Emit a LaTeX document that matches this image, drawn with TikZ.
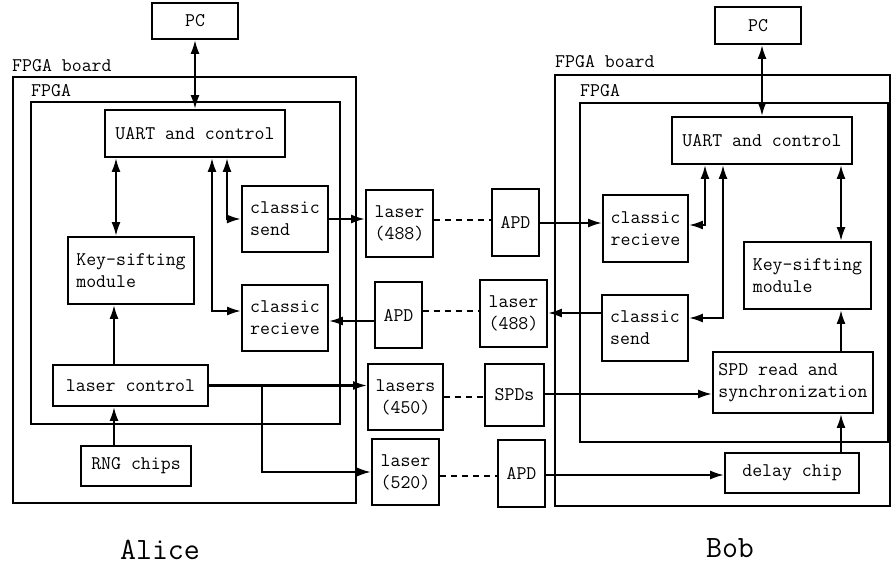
\documentclass[tikz,border=0pt]{standalone}
\usepackage{fontspec}
\usetikzlibrary{arrows.meta}
\begin{document}
\begin{tikzpicture}[x=1pt,y=-1pt,
  txt/.style={font=\ttfamily\fontsize{19.3}{22}\selectfont},
  box/.style={draw, line width=1.8pt, inner sep=0pt, txt, align=center},
  lbox/.style={box, align=left},
  frame/.style={draw, line width=1.6pt},
  lbl/.style={txt, anchor=base west, inner sep=0pt},
  big/.style={font=\ttfamily\fontsize{31}{36}\selectfont, inner sep=0pt},
  arr/.style={line width=2.2pt, -{Latex[length=14pt,width=9pt]}},
  biarr/.style={line width=2.2pt, {Latex[length=14pt,width=9pt]}-{Latex[length=14pt,width=9pt]}},
  dsh/.style={line width=1.5pt, dash pattern=on 6pt off 5pt}
]
\useasboundingbox (0,0) rectangle (891,567);

% ---------- Alice ----------
\draw[frame] (13,77) rectangle (356,503);
\draw[frame] (31,102) rectangle (340,424);
\node[lbl] (boardA) at (12,72) {FPGA board};
\node[lbl] (fpgaA) at (31,97) {FPGA};

\node[box, minimum width=86pt, minimum height=36pt] (PCa) at (195,21) {PC};
\node[box, minimum width=180pt, minimum height=47pt] (uartA) at (195,133.5) {UART and control};
\node[lbox, minimum width=126pt, minimum height=67pt] (keyA) at (131,270.5) {Key-sifting\\module};
\node[lbox, line width=2.2pt, minimum width=86pt, minimum height=66pt] (sendA) at (285,219) {classic\\send};
\node[lbox, minimum width=86pt, minimum height=66pt] (recvA) at (285,318) {classic\\recieve};
\node[box, minimum width=155pt, minimum height=41pt] (lcA) at (130.5,385.5) {laser control};
\node[box, minimum width=110pt, minimum height=40pt] (rngA) at (136,466) {RNG chips};

% ---------- middle ----------
\node[box, minimum width=67pt, minimum height=67pt] (l488A) at (399.5,223.5) {laser\\(488)};
\node[box, minimum width=47pt, minimum height=66pt] (apdA) at (398.5,315) {APD};
\node[box, minimum width=75pt, minimum height=66pt] (l450) at (405.5,397) {lasers\\(450)};
\node[box, minimum width=67pt, minimum height=66pt] (l520) at (405.5,472) {laser\\(520)};
\node[box, minimum width=47pt, minimum height=67pt] (apdB1) at (515.5,222.5) {APD};
\node[box, minimum width=67pt, minimum height=67pt] (l488B) at (513.5,313.5) {laser\\(488)};
\node[box, minimum width=59pt, minimum height=62pt] (spds) at (514.5,395) {SPDs};
\node[box, minimum width=47pt, minimum height=67pt] (apdB2) at (521.5,473.5) {APD};

% ---------- Bob ----------
\draw[frame] (555,75) -- (890,75) -- (890,506) -- (555,506) -- cycle;
\draw[frame] (580,103) rectangle (888,442);
\node[lbl] (boardB) at (555,68) {FPGA board};
\node[lbl] (fpgaB) at (580,97) {FPGA};

\node[box, minimum width=86pt, minimum height=37pt] (PCb) at (758,25.5) {PC};
\node[box, minimum width=180pt, minimum height=47pt] (uartB) at (762,140.5) {UART and control};
\node[lbox, minimum width=85pt, minimum height=67pt] (recvB) at (645.5,228.5) {classic\\recieve};
\node[lbox, minimum width=127pt, minimum height=67pt] (keyB) at (807.5,275.5) {Key-sifting\\module};
\node[lbox, minimum width=86pt, minimum height=66pt] (sendB) at (645,328) {classic\\send};
\node[lbox, minimum width=160pt, minimum height=61pt] (spdr) at (793,382.5) {SPD read and\\synchronization};
\node[box, minimum width=134pt, minimum height=40pt] (delay) at (792,473) {delay chip};

\node[big] (alice) at (160,550) {Alice};
\node[big] (bob) at (730,548) {Bob};

% guide coordinates
\coordinate (ka) at (116,0);
\coordinate (sa) at (227,0);
\coordinate (ra) at (212,0);
\coordinate (ray) at (0,311);
\coordinate (la) at (114,0);
\coordinate (br) at (262,0);
\coordinate (yA) at (0,321);
\coordinate (yB) at (0,223);
\coordinate (yd1) at (0,220);
\coordinate (yd2) at (0,311);
\coordinate (ys2) at (0,313);
\coordinate (ys) at (0,394);
\coordinate (yd3) at (0,397);
\coordinate (yd4) at (0,476);
\coordinate (ydl) at (0,475);
\coordinate (rb) at (705,0);
\coordinate (rby) at (0,225);
\coordinate (sb) at (723,0);
\coordinate (sby) at (0,318);
\coordinate (kb) at (841,0);

% Alice connectors
\draw[biarr] (PCa.south) -- (uartA.north);
\draw[biarr] (uartA.south -| ka) -- (keyA.north -| ka);
\draw[biarr] (uartA.south -| sa) |- (sendA.west);
\draw[biarr] (uartA.south -| ra) |- (recvA.west |- ray);
\draw[arr] (lcA.north -| la) -- (keyA.south -| la);
\draw[arr] (rngA.north -| la) -- (lcA.south -| la);
\draw[arr] (lcA.east) -- (l450.west |- lcA.east);
\draw[arr] (lcA.east -| br) |- (l520.west);
\draw[arr] (sendA.east) -- (l488A.west |- sendA.east);
\draw[arr] (apdA.west |- yA) -- (recvA.east |- yA);

% links
\draw[dsh] (l488A.east |- yd1) -- (apdB1.west |- yd1);
\draw[dsh] (apdA.east |- yd2) -- (l488B.west |- yd2);
\draw[dsh] (l450.east |- yd3) -- (spds.west |- yd3);
\draw[dsh] (l520.east |- yd4) -- (apdB2.west |- yd4);

% Bob connectors
\draw[arr] (apdB1.east |- yB) -- (recvB.west |- yB);
\draw[arr] (sendB.west |- ys2) -- (l488B.east |- ys2);
\draw[arr] (spds.east |- ys) -- (spdr.west |- ys);
\draw[arr] (apdB2.east |- ydl) -- (delay.west |- ydl);
\draw[biarr] (PCb.south -| uartB.north) -- (uartB.north);
\draw[biarr] (uartB.south -| rb) |- (recvB.east |- rby);
\draw[biarr] (uartB.south -| sb) |- (sendB.east |- sby);
\draw[biarr] (uartB.south -| kb) -- (keyB.north -| kb);
\draw[arr] (spdr.north -| kb) -- (keyB.south -| kb);
\draw[arr] (delay.north -| kb) -- (spdr.south -| kb);
\end{tikzpicture}
\end{document}
